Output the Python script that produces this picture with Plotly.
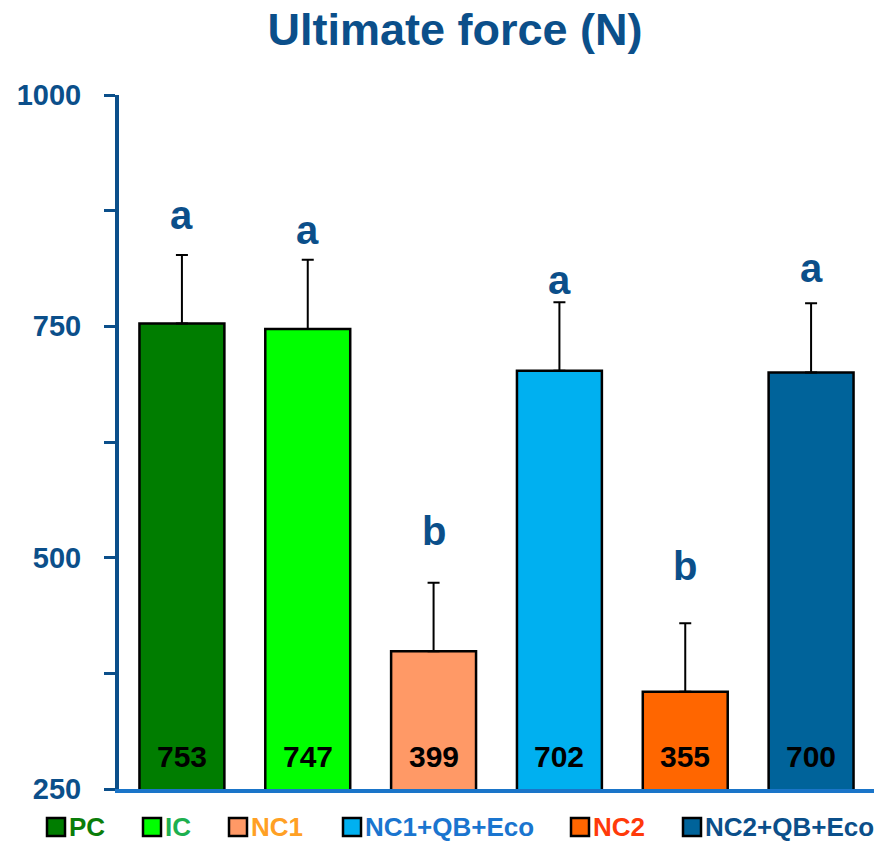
import plotly.graph_objects as go

categories = ["PC", "IC", "NC1", "NC1+QB+Eco", "NC2", "NC2+QB+Eco"]
values = [753, 747, 399, 702, 355, 700]
errors = [74, 75, 74, 74, 74, 75]
letters = ["a", "a", "b", "a", "b", "a"]
letter_y = [870, 854, 529, 800, 491, 813]
bar_colors = ["#007d00", "#00ff00", "#ff9966", "#00b0f0", "#ff6600", "#00639a"]
legend_text_colors = ["#0a7d0a", "#1db04f", "#ffa024", "#1a75cf", "#ff3a0a", "#0b4f8a"]
legend_marker_px = [47, 143, 229, 343, 571, 683]
y_ticks = [250, 500, 750, 1000]
y_minor = [375, 625, 875]

NAVY = "#0b4f8a"
FONT = "Liberation Sans, Arial"

W, H = 879, 843
ML, MT = 119, 95
PW, PH = 755, 694
MR = W - ML - PW
MB = H - MT - PH

fig = go.Figure()
for i, c in enumerate(categories):
    fig.add_trace(go.Bar(
        x=[c], y=[values[i]], width=0.675,
        marker=dict(color=bar_colors[i], line=dict(color="black", width=2.5)),
        error_y=dict(type="data", symmetric=False, array=[errors[i]], arrayminus=[0],
                     color="black", thickness=2, width=6),
        showlegend=False,
    ))
    fig.add_annotation(x=c, y=250, text=f"<b>{values[i]}</b>", showarrow=False,
                       yanchor="bottom", yshift=14,
                       font=dict(family=FONT, size=30, color="black"))
    fig.add_annotation(x=c, y=letter_y[i], text=f"<b>{letters[i]}</b>", showarrow=False,
                       yanchor="middle",
                       font=dict(family=FONT, size=40, color=NAVY))
    # legend entry
    px0 = legend_marker_px[i]
    py_c = 827
    s = 18
    fig.add_shape(type="rect", xref="paper", yref="paper",
                  x0=(px0 - ML) / PW, x1=(px0 + s - ML) / PW,
                  y0=(H - MB - (py_c + s / 2)) / PH, y1=(H - MB - (py_c - s / 2)) / PH,
                  fillcolor=bar_colors[i], line=dict(color="black", width=2.5))
    fig.add_annotation(xref="paper", yref="paper",
                       x=(px0 + s + 2 - ML) / PW, y=(H - MB - py_c) / PH,
                       xanchor="left", yanchor="middle", showarrow=False,
                       text=f"<b>{c}</b>",
                       font=dict(family=FONT, size=26, color=legend_text_colors[i]))

fig.update_layout(
    width=W, height=H,
    margin=dict(l=ML, r=MR, t=MT, b=MB),
    plot_bgcolor="white", paper_bgcolor="white",
    barmode="overlay",
    title=dict(text="<b>Ultimate force (N)</b>", x=455 / W, xanchor="center",
               y=1 - 29 / H, yanchor="middle",
               font=dict(family=FONT, size=45, color=NAVY)),
    xaxis=dict(range=[-0.5, 5.5], showticklabels=False, ticks="",
               showline=True, linecolor="#1a75c9", linewidth=4, showgrid=False,
               zeroline=False),
    yaxis=dict(range=[250, 1000], tickmode="array", tickvals=y_ticks,
               ticks="outside", ticklen=11, tickwidth=3, tickcolor=NAVY,
               showline=True, linecolor=NAVY, linewidth=4, showgrid=False,
               zeroline=False, ticklabelstandoff=17,
               tickfont=dict(family=FONT, size=29, color=NAVY, weight="bold"),
               minor=dict(tickmode="array", tickvals=y_minor, ticks="outside",
                          ticklen=11, tickwidth=3, tickcolor=NAVY, showgrid=False)),
)

fig.write_html("out.html", config={"displayModeBar": False},
               post_script="document.body.style.margin='0';document.body.style.overflow='hidden';")
